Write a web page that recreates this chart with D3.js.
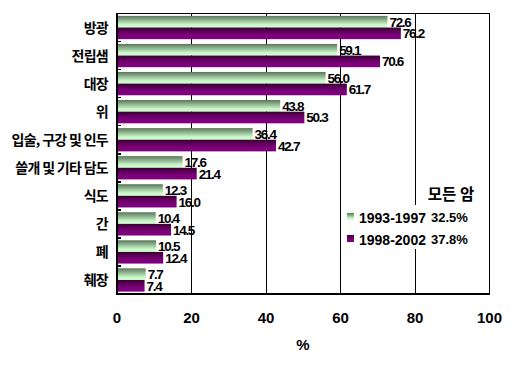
<!DOCTYPE html>
<html><head><meta charset="utf-8">
<script src="https://cdn.jsdelivr.net/npm/d3@7"></script>
<style>body{margin:0;background:#fff}svg{display:block}</style>
</head><body>
<script>
const categories = ["방광","전립샘","대장","위","입술, 구강 및 인두","쓸개 및 기타 담도","식도","간","폐","췌장"];
const series1993 = [72.6,59.1,56.0,43.8,36.4,17.6,12.3,10.4,10.5,7.7];
const series1998 = [76.2,70.6,61.7,50.3,42.7,21.4,16.0,14.5,12.4,7.4];
const seriesNames = ["1993-1997","1998-2002"];
const allCancer = ["32.5%","37.8%"];
const legendTitle = "모든 암";
const xTicks = [0,20,40,60,80,100];
const xTitle = "%";

const W=529,H=378;
const m={l:117,r:489.5,t:13.5,b:294};
const svg=d3.select("body").append("svg").attr("width",W).attr("height",H);
const defs=svg.append("defs");
const g1=defs.append("linearGradient").attr("id","gG").attr("x1",0).attr("y1",0).attr("x2",0).attr("y2",1);
g1.append("stop").attr("offset","0%").attr("stop-color","#5a765a");
g1.append("stop").attr("offset","75%").attr("stop-color","#c8f8c8");
g1.append("stop").attr("offset","100%").attr("stop-color","#d0ffd0");
const g2=defs.append("linearGradient").attr("id","gP").attr("x1",0).attr("y1",0).attr("x2",0).attr("y2",1);
g2.append("stop").attr("offset","0%").attr("stop-color","#380030");
g2.append("stop").attr("offset","60%").attr("stop-color","#7a0078");
g2.append("stop").attr("offset","100%").attr("stop-color","#800080");

const x=d3.scaleLinear().domain([0,100]).range([m.l,m.r]);
const y=d3.scaleBand().domain(categories).range([m.t,m.b]).paddingInner(0.17).paddingOuter(0.085);
const yInner=d3.scaleBand().domain([0,1]).range([0,y.bandwidth()]);

// gridlines
svg.append("g").selectAll("line").data(xTicks.slice(1,-1)).join("line")
  .attr("x1",d=>x(d)).attr("x2",d=>x(d)).attr("y1",m.t).attr("y2",m.b)
  .attr("stroke","#000").attr("stroke-width",1).attr("shape-rendering","crispEdges");

const data=categories.map((c,i)=>({c,v:[series1993[i],series1998[i]]}));
const fills=["url(#gG)","url(#gP)"];
const grp=svg.append("g").selectAll("g").data(data).join("g").attr("transform",d=>`translate(0,${y(d.c)})`);
grp.selectAll("rect").data(d=>d.v).join("rect")
  .attr("x",x(0)).attr("y",(d,i)=>yInner(i)).attr("width",d=>x(d)-x(0)).attr("height",yInner.bandwidth())
  .attr("fill",(d,i)=>fills[i]);
grp.selectAll("text").data(d=>d.v).join("text")
  .attr("x",d=>x(d)+2).attr("y",(d,i)=>yInner(i)+yInner.bandwidth()/2+5)
  .attr("font-family","'Liberation Sans',Arial,sans-serif").attr("font-weight","bold")
  .attr("font-size",13.5).attr("letter-spacing","-1.3px").attr("fill","#000")
  .text(d=>d.toFixed(1));

// frame
svg.append("rect").attr("x",m.l).attr("y",m.t).attr("width",m.r-m.l).attr("height",m.b-m.t)
  .attr("fill","none").attr("stroke","#000").attr("stroke-width",1.5).attr("shape-rendering","crispEdges");

// left axis ticks at band boundaries (inside)
const step=(m.b-m.t)/categories.length;
svg.append("g").selectAll("line").data(d3.range(1,categories.length)).join("line")
  .attr("x1",m.l).attr("x2",m.l+4).attr("y1",d=>m.t+d*step).attr("y2",d=>m.t+d*step)
  .attr("stroke","#000").attr("stroke-width",1.5).attr("shape-rendering","crispEdges");

// category labels
svg.append("g").selectAll("text").data(categories).join("text")
  .attr("x",108).attr("y",d=>y(d)+y.bandwidth()/2+5.5)
  .attr("text-anchor","end").attr("font-family","'Noto Sans CJK KR',sans-serif").attr("font-weight","bold")
  .attr("font-size",14).attr("letter-spacing","-0.7px").attr("fill","#000").text(d=>d);

// x tick labels
svg.append("g").selectAll("text").data(xTicks).join("text")
  .attr("x",d=>x(d)).attr("y",323).attr("text-anchor","middle")
  .attr("font-family","'Liberation Sans',Arial,sans-serif").attr("font-weight","bold")
  .attr("font-size",15).attr("fill","#000").text(d=>d);
svg.append("text").attr("x",303).attr("y",350).attr("text-anchor","middle")
  .attr("font-family","'Liberation Sans',Arial,sans-serif").attr("font-weight","bold")
  .attr("font-size",15).text(xTitle);

// legend
const lg=svg.append("g");
lg.append("rect").attr("x",343).attr("y",205).attr("width",128).attr("height",44).attr("fill","#fff");
lg.append("text").attr("x",451).attr("y",200).attr("text-anchor","middle")
  .attr("font-family","'Noto Sans CJK KR',sans-serif").attr("font-weight","bold").attr("font-size",15.5).text(legendTitle);
seriesNames.forEach((s,i)=>{
  const yy=223+i*22;
  lg.append("rect").attr("x",347).attr("y",yy-10).attr("width",7).attr("height",7).attr("fill",fills[i]);
  lg.append("text").attr("x",359).attr("y",yy).attr("font-family","'Liberation Sans',Arial,sans-serif")
    .attr("font-weight","bold").attr("font-size",14).text(s);
  lg.append("text").attr("x",431).attr("y",yy-1).attr("font-family","'Liberation Sans',Arial,sans-serif")
    .attr("font-weight","bold").attr("font-size",13).text(allCancer[i]);
});
</script>
</body></html>
